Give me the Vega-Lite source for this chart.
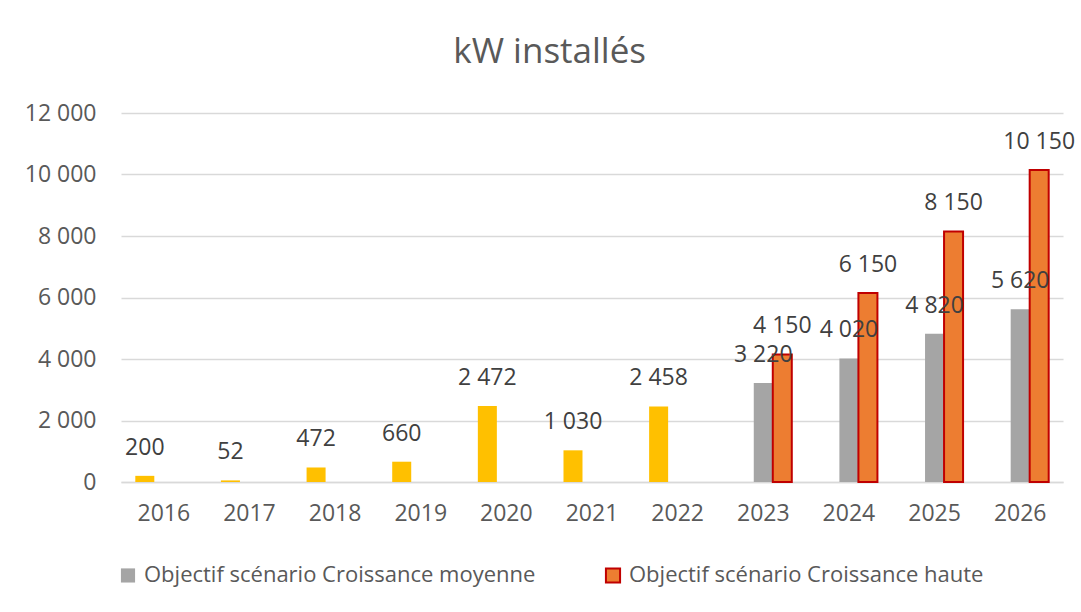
{
  "$schema": "https://vega.github.io/schema/vega-lite/v6.json",
  "width": 942,
  "height": 369,
  "autosize": {"type": "none"},
  "padding": {"left": 121, "top": 113, "right": 18, "bottom": 130},
  "background": "white",
  "title": {
    "text": "kW installés",
    "font": "Open Sans",
    "fontSize": 35,
    "fontWeight": "normal",
    "color": "#595959",
    "anchor": "middle",
    "frame": "bounds",
    "offset": 32
  },
  "config": {
    "locale": {"number": {"decimal": ",", "thousands": " ", "grouping": [3], "currency": ["", " €"]}},
    "view": {"stroke": null},
    "font": "Open Sans"
  },
  "data": {
    "values": [
      {"annee": "2016", "serie": "Réalisé", "kw": 200},
      {"annee": "2017", "serie": "Réalisé", "kw": 52},
      {"annee": "2018", "serie": "Réalisé", "kw": 472},
      {"annee": "2019", "serie": "Réalisé", "kw": 660},
      {"annee": "2020", "serie": "Réalisé", "kw": 2472},
      {"annee": "2021", "serie": "Réalisé", "kw": 1030},
      {"annee": "2022", "serie": "Réalisé", "kw": 2458},
      {"annee": "2023", "serie": "Objectif scénario Croissance moyenne", "kw": 3220},
      {"annee": "2024", "serie": "Objectif scénario Croissance moyenne", "kw": 4020},
      {"annee": "2025", "serie": "Objectif scénario Croissance moyenne", "kw": 4820},
      {"annee": "2026", "serie": "Objectif scénario Croissance moyenne", "kw": 5620},
      {"annee": "2023", "serie": "Objectif scénario Croissance haute", "kw": 4150},
      {"annee": "2024", "serie": "Objectif scénario Croissance haute", "kw": 6150},
      {"annee": "2025", "serie": "Objectif scénario Croissance haute", "kw": 8150},
      {"annee": "2026", "serie": "Objectif scénario Croissance haute", "kw": 10150}
    ]
  },
  "encoding": {
    "x": {
      "field": "annee",
      "type": "ordinal",
      "title": null,
      "scale": {"paddingInner": 0.334, "paddingOuter": 0.167},
      "axis": {
        "labelAngle": 0,
        "labelFontSize": 23,
        "labelColor": "#595959",
        "labelPadding": 20,
        "ticks": false,
        "domainColor": "#D9D9D9",
        "domainWidth": 1.5
      }
    },
    "xOffset": {
      "field": "serie",
      "type": "nominal",
      "scale": {"domain": ["Réalisé", "Objectif scénario Croissance moyenne", "Objectif scénario Croissance haute"], "paddingInner": 0, "paddingOuter": 0}
    },
    "y": {
      "field": "kw",
      "type": "quantitative",
      "title": null,
      "scale": {"domain": [0, 12000], "nice": false},
      "axis": {
        "values": [0, 2000, 4000, 6000, 8000, 10000, 12000],
        "format": ",d",
        "labelFontSize": 23,
        "labelColor": "#595959",
        "labelPadding": 25,
        "ticks": false,
        "domain": false,
        "gridColor": "#D9D9D9",
        "gridWidth": 1.5
      }
    }
  },
  "layer": [
    {
      "mark": {"type": "bar", "strokeWidth": 2},
      "encoding": {
        "fill": {
          "field": "serie",
          "type": "nominal",
          "title": null,
          "scale": {
            "domain": ["Réalisé", "Objectif scénario Croissance moyenne", "Objectif scénario Croissance haute"],
            "range": ["#FFC000", "#A5A5A5", "#ED7D31"]
          },
          "legend": {
            "values": ["Objectif scénario Croissance moyenne", "Objectif scénario Croissance haute"],
            "orient": "none",
            "direction": "horizontal",
            "columns": 2,
            "legendX": -4,
            "legendY": 451,
            "padding": 0,
            "symbolType": "square",
            "symbolSize": 200,
            "symbolStrokeWidth": 2,
            "labelFontSize": 22,
            "labelColor": "#595959",
            "labelOffset": 5,
            "columnPadding": 65,
            "labelLimit": 600
          }
        },
        "stroke": {
          "field": "serie",
          "type": "nominal",
          "title": null,
          "scale": {
            "domain": ["Réalisé", "Objectif scénario Croissance moyenne", "Objectif scénario Croissance haute"],
            "range": ["transparent", "transparent", "#C00000"]
          },
          "legend": {
            "values": ["Objectif scénario Croissance moyenne", "Objectif scénario Croissance haute"],
            "orient": "none",
            "direction": "horizontal",
            "columns": 2,
            "legendX": -4,
            "legendY": 451,
            "padding": 0,
            "symbolType": "square",
            "symbolSize": 200,
            "symbolStrokeWidth": 2,
            "labelFontSize": 22,
            "labelColor": "#595959",
            "labelOffset": 5,
            "columnPadding": 65,
            "labelLimit": 600
          }
        }
      }
    },
    {
      "mark": {"type": "text", "dy": -28, "baseline": "middle", "align": "center", "fontSize": 23, "color": "#404040"},
      "encoding": {
        "text": {"field": "kw", "type": "quantitative", "format": ",d"}
      }
    }
  ]
}
